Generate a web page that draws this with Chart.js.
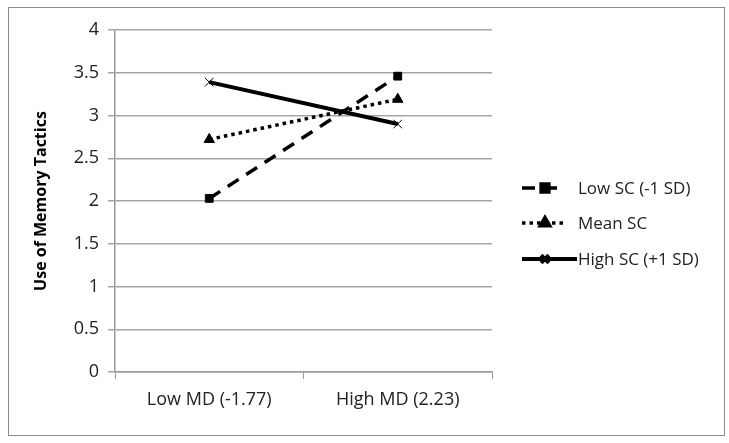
<!DOCTYPE html>
<html>
<head>
<meta charset="utf-8">
<script src="https://cdn.jsdelivr.net/npm/chart.js@4"></script>
<style>
  html,body{margin:0;padding:0;background:#fff;}
  #wrap{position:relative;width:729px;height:443px;}
  #frame{position:absolute;left:8px;top:7px;width:715px;height:427px;border:1px solid #8a8a8a;}
  canvas{position:absolute;left:0;top:0;}
</style>
</head>
<body>
<div id="wrap">
  <div id="frame"></div>
  <canvas id="c" width="729" height="443"></canvas>
</div>
<script>
const categories = ['Low MD (-1.77)', 'High MD (2.23)'];
const seriesNames = ['Low SC (-1 SD)', 'Mean SC', 'High SC (+1 SD)'];
const lowSC = [2.03, 3.46];
const meanSC = [2.72, 3.19];
const highSC = [3.39, 2.90];
const yTicks = [0, 0.5, 1, 1.5, 2, 2.5, 3, 3.5, 4];

const FONT = '"Open Sans", "DejaVu Sans", sans-serif';
const TXT = '#222';

// legend drawn by hand so the line samples carry their dash + marker
const sideLegend = {
  id: 'sideLegend',
  afterDraw(chart){
    const ctx = chart.ctx;
    const rows = [188, 223, 259];
    chart.data.datasets.forEach((ds, i) => {
      const y = rows[i];
      ctx.save();
      ctx.strokeStyle = '#000';
      ctx.lineWidth = ds.borderWidth;
      ctx.setLineDash(ds.borderDash || []);
      ctx.beginPath();
      ctx.moveTo(522, y);
      ctx.lineTo(i === 2 ? 577 : 566, y);
      ctx.stroke();
      ctx.setLineDash([]);
      ctx.fillStyle = '#000';
      Chart.helpers.drawPoint(ctx, {
        pointStyle: ds.pointStyle, radius: Math.min(ds.pointRadius, 5.5),
        rotation: 0, borderWidth: ds.pointBorderWidth
      }, 545, y);
      ctx.fillStyle = TXT;
      ctx.font = '17px ' + FONT;
      ctx.textBaseline = 'middle';
      ctx.fillText(seriesNames[i], 578, y + 1);
      ctx.restore();
    });
  }
};

new Chart(document.getElementById('c'), {
  type: 'line',
  data: {
    labels: categories,
    datasets: [
      { label: seriesNames[0], data: lowSC, borderColor: '#000', backgroundColor: '#000',
        borderWidth: 3.5, borderDash: [13, 9], pointStyle: 'rect', pointRadius: 5.5,
        pointBorderWidth: 1, pointBackgroundColor: '#000', pointBorderColor: '#000' },
      { label: seriesNames[1], data: meanSC, borderColor: '#000', backgroundColor: '#000',
        borderWidth: 3.5, borderDash: [3.5, 4], pointStyle: 'triangle', pointRadius: 6,
        pointBorderWidth: 1, pointBackgroundColor: '#000', pointBorderColor: '#000' },
      { label: seriesNames[2], data: highSC, borderColor: '#000', backgroundColor: '#000',
        borderWidth: 4, pointStyle: 'crossRot', pointRadius: 6,
        pointBorderWidth: 1, pointBackgroundColor: '#000', pointBorderColor: '#000' }
    ]
  },
  options: {
    responsive: false,
    animation: false,
    layout: { padding: { left: 0, top: 30, right: 237, bottom: 0 } },
    plugins: { legend: { display: false }, tooltip: { enabled: false } },
    scales: {
      x: {
        offset: true,
        grid: { offset: true, drawOnChartArea: false, drawTicks: true, tickLength: 7, color: '#9a9a9a' },
        border: { color: '#9a9a9a', width: 1.5 },
        ticks: { color: TXT, font: { family: FONT, size: 18 }, padding: 10 },
        afterFit(s){ s.height = 71; }
      },
      y: {
        min: 0, max: 4,
        afterBuildTicks(s){ s.ticks = yTicks.map(v => ({ value: v })); },
        grid: { color: '#a5a5a5', lineWidth: 1.5, tickLength: 7 },
        border: { color: '#9a9a9a', width: 1.5 },
        ticks: { color: TXT, font: { family: FONT, size: 18 }, padding: 9,
                 callback: v => String(v) },
        title: { display: true, text: 'Use of Memory Tactics', color: '#000',
                 font: { family: FONT, size: 16, weight: 'bold' }, padding: { top: 32, bottom: 0 } },
        afterFit(s){ s.width = 115; }
      }
    }
  },
  plugins: [sideLegend]
});
</script>
</body>
</html>
